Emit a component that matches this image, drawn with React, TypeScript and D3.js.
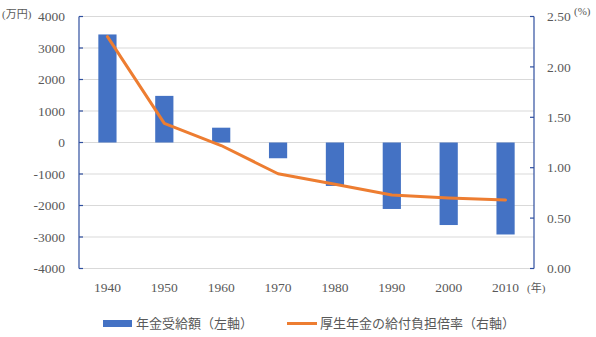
import React from "react";
import * as d3 from "d3";

const years = ["1940", "1950", "1960", "1970", "1980", "1990", "2000", "2010"];
const benefitValues = [3430, 1480, 470, -500, -1380, -2110, -2620, -2920];
const ratioValues = [2.3, 1.44, 1.22, 0.94, 0.835, 0.73, 0.7, 0.68];
const leftTicks = [4000, 3000, 2000, 1000, 0, -1000, -2000, -3000, -4000];
const rightTicks = [0, 0.5, 1, 1.5, 2, 2.5];

const W = 596;
const H = 337;
const left = 79;
const right = 534;
const top = 16.5;
const bottom = 268.5;
const FONT = '"Liberation Serif", "DejaVu Serif", "Noto Sans CJK JP", serif';
const TEXT = "#595959";
const AXIS = "#2F4F9F";
const BAR = "#4472C4";
const LINE = "#ED7D31";

export default function App() {
  const x = d3.scaleBand<string>().domain(years).range([left, right]).paddingInner(0.68).paddingOuter(0.34);
  const yL = d3.scaleLinear().domain([-4000, 4000]).range([bottom, top]);
  const yR = d3.scaleLinear().domain([0, 2.5]).range([bottom, top]);
  const cx = (d: string) => (x(d) as number) + x.bandwidth() / 2;
  const line = d3
    .line<number>()
    .x((_, i) => cx(years[i]))
    .y((v) => yR(v));

  return (
    <svg width={W} height={H} style={{ position: "absolute", left: 0, top: 0, background: "#fff" }} fontFamily={FONT}>
      {leftTicks.map((t) => (
        <line key={"g" + t} x1={left} x2={right} y1={yL(t)} y2={yL(t)} stroke="#d9d9d9" strokeWidth={1} />
      ))}
      {benefitValues.map((v, i) => (
        <rect
          key={"b" + i}
          x={x(years[i])}
          width={x.bandwidth()}
          y={Math.min(yL(v), yL(0))}
          height={Math.abs(yL(v) - yL(0))}
          fill={BAR}
        />
      ))}
      <path d={line(ratioValues) || ""} fill="none" stroke={LINE} strokeWidth={3} strokeLinejoin="round" strokeLinecap="round" />
      {/* left axis */}
      <line x1={left} x2={left} y1={top} y2={bottom} stroke={AXIS} strokeWidth={1.2} />
      {leftTicks.map((t) => (
        <g key={"l" + t}>
          <line x1={left} x2={left + 4} y1={yL(t)} y2={yL(t)} stroke={AXIS} strokeWidth={1.2} />
          <text x={65} y={yL(t)} dy="0.35em" textAnchor="end" fontSize={13.5} fill={TEXT}>
            {t}
          </text>
        </g>
      ))}
      {/* right axis */}
      <line x1={right} x2={right} y1={top} y2={bottom} stroke={AXIS} strokeWidth={1.2} />
      {rightTicks.map((t) => (
        <g key={"r" + t}>
          <line x1={right - 4} x2={right} y1={yR(t)} y2={yR(t)} stroke={AXIS} strokeWidth={1.2} />
          <text x={547} y={yR(t)} dy="0.35em" textAnchor="start" fontSize={13.5} fill={TEXT}>
            {t.toFixed(2)}
          </text>
        </g>
      ))}
      {years.map((yr) => (
        <text key={"x" + yr} x={cx(yr)} y={292} textAnchor="middle" fontSize={13.5} fill={TEXT}>
          {yr}
        </text>
      ))}
      <text x={527} y={292} fontSize={11} fill={TEXT}>(年)</text>
      <text x={2} y={18} fontSize={11} fill={TEXT}>(万円)</text>
      <text x={574} y={15} fontSize={11} fill={TEXT}>(%)</text>
      {/* legend */}
      <rect x={103} y={320} width={29} height={7} fill={BAR} />
      <text x={136} y={328} fontSize={13} fill={TEXT}>年金受給額（左軸）</text>
      <line x1={287} x2={317} y1={323.5} y2={323.5} stroke={LINE} strokeWidth={3} />
      <text x={320} y={328} fontSize={13} fill={TEXT}>厚生年金の給付負担倍率（右軸）</text>
    </svg>
  );
}
